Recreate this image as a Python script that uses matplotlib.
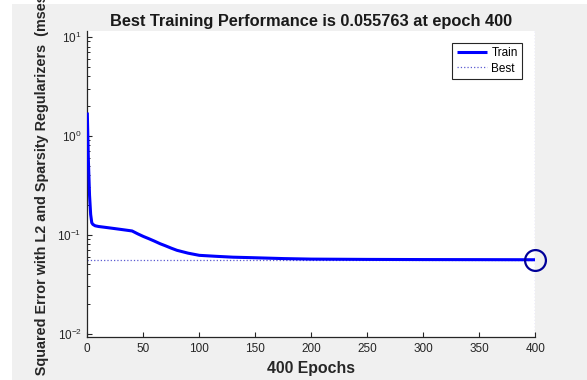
import matplotlib
matplotlib.use("Agg")
import matplotlib.pyplot as plt
from matplotlib.patches import Rectangle

plt.rcParams['font.family'] = ['Liberation Sans', 'DejaVu Sans']
plt.rcParams['mathtext.fontset'] = 'custom'
plt.rcParams['mathtext.rm'] = 'Liberation Sans'
plt.rcParams['mathtext.it'] = 'Liberation Sans:italic'
plt.rcParams['mathtext.bf'] = 'Liberation Sans:bold'

# ---- data ----
epochs = [0, 1, 2, 3, 4, 5, 7, 10, 15, 20, 25, 30, 35, 40, 45, 50, 55, 60, 65, 70,
          75, 80, 90, 100, 115, 130, 145, 175, 200, 250, 300, 350, 400]
train_perf = [1.72, 0.55, 0.25, 0.16, 0.132, 0.127, 0.123, 0.121, 0.119, 0.117, 0.115,
              0.113, 0.111, 0.109, 0.102, 0.096, 0.091, 0.086, 0.081, 0.077, 0.073,
              0.0695, 0.065, 0.0618, 0.0604, 0.0592, 0.0586, 0.0573, 0.0566, 0.0562,
              0.0560, 0.0559, 0.055763]
best_epoch = 400
best_perf = 0.055763
x_ticks = [0, 50, 100, 150, 200, 250, 300, 350, 400]
title_text = "Best Training Performance is 0.055763 at epoch 400"
xlabel_text = "400 Epochs"
ylabel_text = "Mean Squared Error with L2 and Sparsity Regularizers  (msesparse)"
legend_labels = ["Train", "Best"]

W, H = 587, 380
fig = plt.figure(figsize=(W / 100, H / 100), dpi=100, facecolor='white')
fig.patches.append(Rectangle((12 / W, 0), 1 - 12 / W, 1 - 4 / H, transform=fig.transFigure,
                             facecolor='#f0f0f0', edgecolor='none', zorder=-10))

ax = fig.add_axes([87.3 / W, (H - 337) / H, 448 / W, 306 / H])
ax.set_facecolor('white')

line_train, = ax.plot(epochs, train_perf, color='#0000ff', lw=2.2, solid_capstyle='butt',
                      zorder=3)
best_color = '#5a5ad0'
line_best, = ax.plot([0, best_epoch], [best_perf, best_perf], ls=':', color=best_color,
                     lw=0.9, zorder=2)
ax.axvline(best_epoch, ls=':', color='#8080e0', lw=0.9, zorder=2)
ax.plot([best_epoch], [best_perf], 'o', ms=15, mfc='none', mec='#000099', mew=1.6,
        zorder=4, clip_on=False)

ax.set_yscale('log')
ax.set_xlim(0, 400)
ax.set_ylim(10 ** -2.035, 10 ** 1.06)
ax.set_xticks(x_ticks)
ax.minorticks_on()
ax.xaxis.set_tick_params(which='minor', bottom=False)

for s in ['top', 'right']:
    ax.spines[s].set_visible(False)
for s in ['left', 'bottom']:
    ax.spines[s].set_color('#262626')
    ax.spines[s].set_linewidth(0.9)
ax.tick_params(which='major', direction='in', length=3.3, width=0.8, color='#262626',
               labelsize=8.5, labelcolor='#262626', pad=4)
ax.tick_params(which='minor', direction='in', length=2, width=0.7, color='#262626')

ax.set_title(title_text, fontsize=11.8, fontweight='bold', pad=3.6, color='#1a1a1a')
ax.set_xlabel(xlabel_text, fontsize=11.4, fontweight='bold', labelpad=5, color='#262626')
fig.text(42.5 / W, 1 - 184 / H, ylabel_text, rotation=90, ha='center', va='center',
         fontsize=10.4, fontweight='bold', color='#262626')

leg = ax.legend([line_train, line_best], legend_labels, loc='upper right',
                bbox_to_anchor=(0.970, 0.961), borderaxespad=0, fontsize=8.5,
                frameon=True, fancybox=False, edgecolor='#262626', framealpha=1,
                handlelength=2.6, handletextpad=0.35, borderpad=0.35, labelspacing=0.3)
leg.get_frame().set_linewidth(0.8)

fig.savefig('out.png', dpi=100, facecolor=fig.get_facecolor())
